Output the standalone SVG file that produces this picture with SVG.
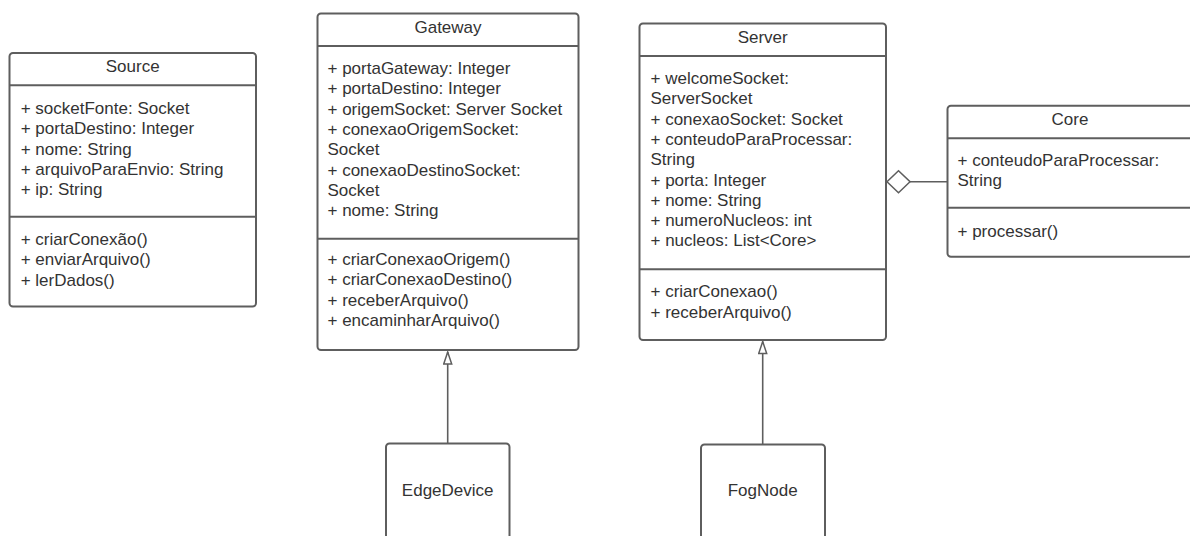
<svg xmlns="http://www.w3.org/2000/svg" width="1190" height="536" viewBox="0 0 1190 536">
  <style>
    .box { fill: #ffffff; stroke: #5e5e5e; stroke-width: 2; }
    .div { stroke: #5e5e5e; stroke-width: 2; }
    .t { font-family: "Liberation Sans", Arial, sans-serif; font-size: 17px; fill: #333333; }
    .c { text-anchor: middle; }
    .edge { stroke: #5e5e5e; stroke-width: 1.6; fill: none; }
  </style>
  <defs>
    <!-- hollow triangle for generalization -->
    <marker id="gen" markerUnits="userSpaceOnUse" markerWidth="16" markerHeight="12" refX="13" refY="5" orient="auto">
      <path d="M1,1 L13,5 L1,9 Z" fill="#ffffff" stroke="#5e5e5e" stroke-width="1.5"/>
    </marker>
    <!-- hollow diamond for aggregation -->
    <marker id="agg" markerUnits="userSpaceOnUse" markerWidth="26" markerHeight="26" refX="1" refY="12.5" orient="auto">
      <path d="M1,12.5 L12.5,1.5 L24,12.5 L12.5,23.5 Z" fill="#ffffff" stroke="#5e5e5e" stroke-width="1.5"/>
    </marker>
  </defs>

  <g id="connectors">
    <line class="edge" x1="447.7" y1="443.5" x2="447.7" y2="352" marker-end="url(#gen)"/>
    <line class="edge" x1="762.7" y1="444.5" x2="762.7" y2="341.5" marker-end="url(#gen)"/>
    <line class="edge" x1="947.5" y1="181.7" x2="910" y2="181.7" marker-end="url(#agg)"/>
  </g>

  <g id="source">
    <rect class="box" x="9.5" y="53" width="246.5" height="253.5" rx="3.5"/>
    <line class="div" x1="9.5" y1="85.3" x2="256" y2="85.3"/>
    <line class="div" x1="9.5" y1="216.7" x2="256" y2="216.7"/>
    <text class="t c" x="132.7" y="72">Source</text>
    <text class="t" x="20.7" y="114">+ socketFonte: Socket</text>
    <text class="t" x="20.7" y="134.3">+ portaDestino: Integer</text>
    <text class="t" x="20.7" y="154.6">+ nome: String</text>
    <text class="t" x="20.7" y="174.9">+ arquivoParaEnvio: String</text>
    <text class="t" x="20.7" y="195.2">+ ip: String</text>
    <text class="t" x="20.7" y="245">+ criarConexão()</text>
    <text class="t" x="20.7" y="265.3">+ enviarArquivo()</text>
    <text class="t" x="20.7" y="285.6">+ lerDados()</text>
  </g>

  <g id="gateway">
    <rect class="box" x="317.5" y="13.5" width="261" height="336.5" rx="3.5"/>
    <line class="div" x1="317.5" y1="46" x2="578.5" y2="46"/>
    <line class="div" x1="317.5" y1="238.7" x2="578.5" y2="238.7"/>
    <text class="t c" x="448" y="33.3">Gateway</text>
    <text class="t" x="327.5" y="74">+ portaGateway: Integer</text>
    <text class="t" x="327.5" y="94.3">+ portaDestino: Integer</text>
    <text class="t" x="327.5" y="114.6">+ origemSocket: Server Socket</text>
    <text class="t" x="327.5" y="134.9">+ conexaoOrigemSocket:</text>
    <text class="t" x="327.5" y="155.2">Socket</text>
    <text class="t" x="327.5" y="175.5">+ conexaoDestinoSocket:</text>
    <text class="t" x="327.5" y="195.8">Socket</text>
    <text class="t" x="327.5" y="216.1">+ nome: String</text>
    <text class="t" x="327.5" y="265">+ criarConexaoOrigem()</text>
    <text class="t" x="327.5" y="285.3">+ criarConexaoDestino()</text>
    <text class="t" x="327.5" y="305.6">+ receberArquivo()</text>
    <text class="t" x="327.5" y="325.9">+ encaminharArquivo()</text>
  </g>

  <g id="server">
    <rect class="box" x="639.5" y="23.5" width="246.5" height="316.5" rx="3.5"/>
    <line class="div" x1="639.5" y1="56" x2="886" y2="56"/>
    <line class="div" x1="639.5" y1="269.3" x2="886" y2="269.3"/>
    <text class="t c" x="762.7" y="43.3">Server</text>
    <text class="t" x="650.5" y="84">+ welcomeSocket:</text>
    <text class="t" x="650.5" y="104.3">ServerSocket</text>
    <text class="t" x="650.5" y="124.6">+ conexaoSocket: Socket</text>
    <text class="t" x="650.5" y="144.9">+ conteudoParaProcessar:</text>
    <text class="t" x="650.5" y="165.2">String</text>
    <text class="t" x="650.5" y="185.5">+ porta: Integer</text>
    <text class="t" x="650.5" y="205.8">+ nome: String</text>
    <text class="t" x="650.5" y="226.1">+ numeroNucleos: int</text>
    <text class="t" x="650.5" y="246.4">+ nucleos: List&lt;Core&gt;</text>
    <text class="t" x="650.5" y="297.3">+ criarConexao()</text>
    <text class="t" x="650.5" y="317.6">+ receberArquivo()</text>
  </g>

  <g id="core">
    <rect class="box" x="947.5" y="105.7" width="245" height="151" rx="3.5"/>
    <line class="div" x1="947.5" y1="138.3" x2="1192.5" y2="138.3"/>
    <line class="div" x1="947.5" y1="207.7" x2="1192.5" y2="207.7"/>
    <text class="t c" x="1070" y="125">Core</text>
    <text class="t" x="957.5" y="166">+ conteudoParaProcessar:</text>
    <text class="t" x="957.5" y="186.3">String</text>
    <text class="t" x="957.5" y="236.7">+ processar()</text>
  </g>

  <g id="edgedevice">
    <rect class="box" x="386" y="443.5" width="123.5" height="110" rx="3.5"/>
    <text class="t c" x="447.7" y="496">EdgeDevice</text>
  </g>

  <g id="fognode">
    <rect class="box" x="701" y="444.5" width="124" height="110" rx="3.5"/>
    <text class="t c" x="762.7" y="495.7">FogNode</text>
  </g>
</svg>
